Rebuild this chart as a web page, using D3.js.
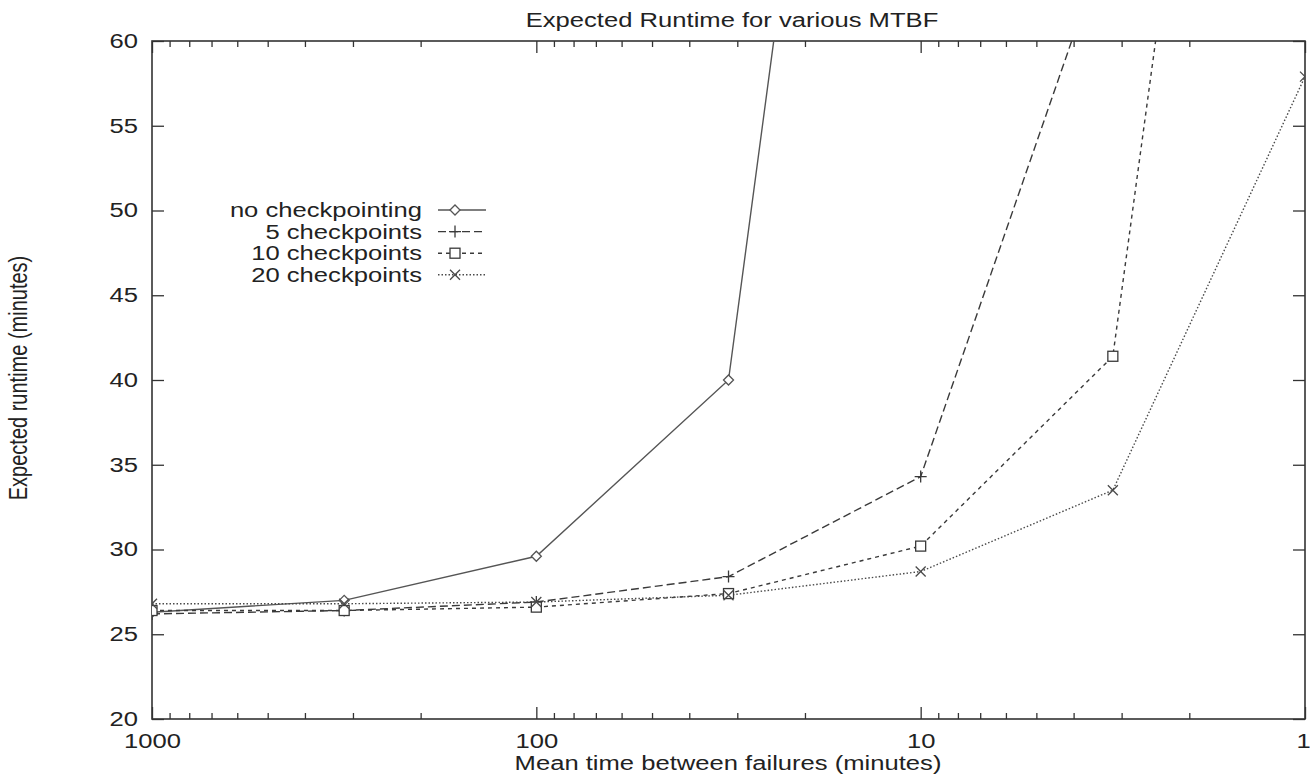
<!DOCTYPE html>
<html>
<head>
<meta charset="utf-8">
<style>
  body { margin: 0; background: #fff; }
  svg text { font-family: "Liberation Sans", Arial, sans-serif; font-size: 20px; fill: #222; }
</style>
</head>
<body>
<svg id="chart" width="1310" height="777"></svg>
<script src="https://cdnjs.cloudflare.com/ajax/libs/d3/7.8.5/d3.min.js"></script>
<script>
// mean time between failures (minutes), half decades
var mtbf = [1000, 316.2, 100, 31.62, 10, 3.162, 1];

var noCheckpointing = [26.3, 27.0, 29.6, 40.0, 125];
var checkpoints5 = [26.2, 26.4, 26.9, 28.4, 34.3, 67];
var checkpoints10 = [26.4, 26.4, 26.6, 27.4, 30.2, 41.4, 125];
var checkpoints20 = [26.8, 26.8, 26.9, 27.3, 28.7, 33.5, 57.9];

var seriesNames = ["no checkpointing", "5 checkpoints", "10 checkpoints", "20 checkpoints"];
var xTicks = [1000, 100, 10, 1];
var yTicks = [20, 25, 30, 35, 40, 45, 50, 55, 60];

var stretch = 1.28; // text in the original is stretched sideways

var svg = d3.select("#chart"),
    plotLeft = 152, plotRight = 1305, plotTop = 41, plotBottom = 719;

var x = d3.scaleLog().domain([1000, 1]).range([plotLeft, plotRight]);
var y = d3.scaleLinear().domain([20, 60]).range([plotBottom, plotTop]);

var minorTicks = [];
[100, 10, 1].forEach(function(d) {
  for (var k = 2; k <= 9; k++) minorTicks.push(d * k);
});

var series = [
  { name: seriesNames[0], values: noCheckpointing, dash: null, marker: "diamond", color: "#555" },
  { name: seriesNames[1], values: checkpoints5, dash: "8,4", marker: "plus", color: "#3a3a3a" },
  { name: seriesNames[2], values: checkpoints10, dash: "4,4", marker: "square", color: "#3a3a3a" },
  { name: seriesNames[3], values: checkpoints20, dash: "1.5,2", marker: "cross", color: "#4a4a4a" }
];

// axes
var gx = svg.append("g").attr("transform", "translate(0," + plotBottom + ")")
    .call(d3.axisBottom(x).tickValues(xTicks).tickFormat(d3.format("d")).tickSize(-12).tickPadding(15));
svg.append("g").attr("transform", "translate(0," + plotBottom + ")")
    .call(d3.axisBottom(x).tickValues(minorTicks).tickFormat("").tickSize(-6));
svg.append("g").attr("transform", "translate(0," + plotTop + ")")
    .call(d3.axisTop(x).tickValues(xTicks).tickFormat("").tickSize(-12));
svg.append("g").attr("transform", "translate(0," + plotTop + ")")
    .call(d3.axisTop(x).tickValues(minorTicks).tickFormat("").tickSize(-6));
var gy = svg.append("g").attr("transform", "translate(" + plotLeft + ",0)")
    .call(d3.axisLeft(y).tickValues(yTicks).tickSize(-12).tickPadding(11));
svg.append("g").attr("transform", "translate(" + plotRight + ",0)")
    .call(d3.axisRight(y).tickValues(yTicks).tickFormat("").tickSize(-12));

svg.selectAll(".domain").remove();
svg.selectAll(".tick line").attr("stroke", "#333").attr("stroke-width", 1.3);
svg.selectAll(".tick text").attr("font-size", 20).attr("fill", "#222")
    .attr("font-family", "Liberation Sans, Arial, sans-serif")
    .attr("transform", "scale(" + stretch + ",1)");
gx.selectAll(".tick text").attr("dy", "0.71em");
// keep the "1" label inside the window
gx.selectAll(".tick text").filter(function(d) { return d === 1; })
    .attr("text-anchor", "end").attr("x", 4);

svg.append("rect")
    .attr("x", plotLeft).attr("y", plotTop)
    .attr("width", plotRight - plotLeft).attr("height", plotBottom - plotTop)
    .attr("fill", "none").attr("stroke", "#333").attr("stroke-width", 1.6);

// lines
svg.append("clipPath").attr("id", "plotClip").append("rect")
    .attr("x", plotLeft).attr("y", plotTop)
    .attr("width", plotRight - plotLeft).attr("height", plotBottom - plotTop);

var line = d3.line()
    .x(function(d, i) { return x(mtbf[i]); })
    .y(function(d) { return y(d); });

function drawMarker(g, type, cx, cy, color) {
  var s = 5;
  if (type === "diamond") {
    g.append("path").attr("d", "M" + (cx - s) + "," + cy + "L" + cx + "," + (cy - s) + "L" + (cx + s) + "," + cy + "L" + cx + "," + (cy + s) + "Z")
      .attr("fill", "#fff").attr("stroke", color).attr("stroke-width", 1.3);
  } else if (type === "plus") {
    g.append("path").attr("d", "M" + (cx - 6) + "," + cy + "H" + (cx + 6) + "M" + cx + "," + (cy - 6) + "V" + (cy + 6))
      .attr("stroke", color).attr("stroke-width", 1.3);
  } else if (type === "square") {
    g.append("rect").attr("x", cx - s).attr("y", cy - s).attr("width", 2 * s).attr("height", 2 * s)
      .attr("fill", "#fff").attr("stroke", color).attr("stroke-width", 1.3);
  } else {
    g.append("path").attr("d", "M" + (cx - s) + "," + (cy - s) + "L" + (cx + s) + "," + (cy + s) + "M" + (cx - s) + "," + (cy + s) + "L" + (cx + s) + "," + (cy - s))
      .attr("stroke", color).attr("stroke-width", 1.3);
  }
}

var plot = svg.append("g").attr("clip-path", "url(#plotClip)");
series.forEach(function(s) {
  plot.append("path")
      .datum(s.values)
      .attr("fill", "none")
      .attr("stroke", s.color)
      .attr("stroke-width", 1.4)
      .attr("stroke-dasharray", s.dash)
      .attr("d", line);
});
series.forEach(function(s) {
  s.values.forEach(function(v, i) {
    if (v <= 60) drawMarker(plot, s.marker, x(mtbf[i]), y(v), s.color);
  });
});

// legend
var legend = svg.append("g");
series.forEach(function(s, i) {
  var ly = 210 + i * 21.6;
  legend.append("text")
      .attr("text-anchor", "end")
      .attr("dy", "0.35em")
      .attr("transform", "translate(422," + ly + ") scale(" + stretch + ",1)")
      .text(s.name);
  legend.append("line")
      .attr("x1", 438).attr("x2", 486).attr("y1", ly).attr("y2", ly)
      .attr("stroke", s.color).attr("stroke-width", 1.4)
      .attr("stroke-dasharray", s.dash);
  drawMarker(legend, s.marker, 455, ly, s.color);
});

// titles
svg.append("text")
    .attr("text-anchor", "middle")
    .attr("transform", "translate(732,27) scale(" + stretch + ",1)")
    .text("Expected Runtime for various MTBF");

svg.append("text")
    .attr("text-anchor", "middle")
    .attr("transform", "translate(728,770) scale(" + stretch + ",1)")
    .text("Mean time between failures (minutes)");

svg.append("text")
    .attr("text-anchor", "middle")
    .attr("transform", "translate(27,378) scale(" + stretch + ",1) rotate(-90)")
    .text("Expected runtime (minutes)");
</script>
</body>
</html>
